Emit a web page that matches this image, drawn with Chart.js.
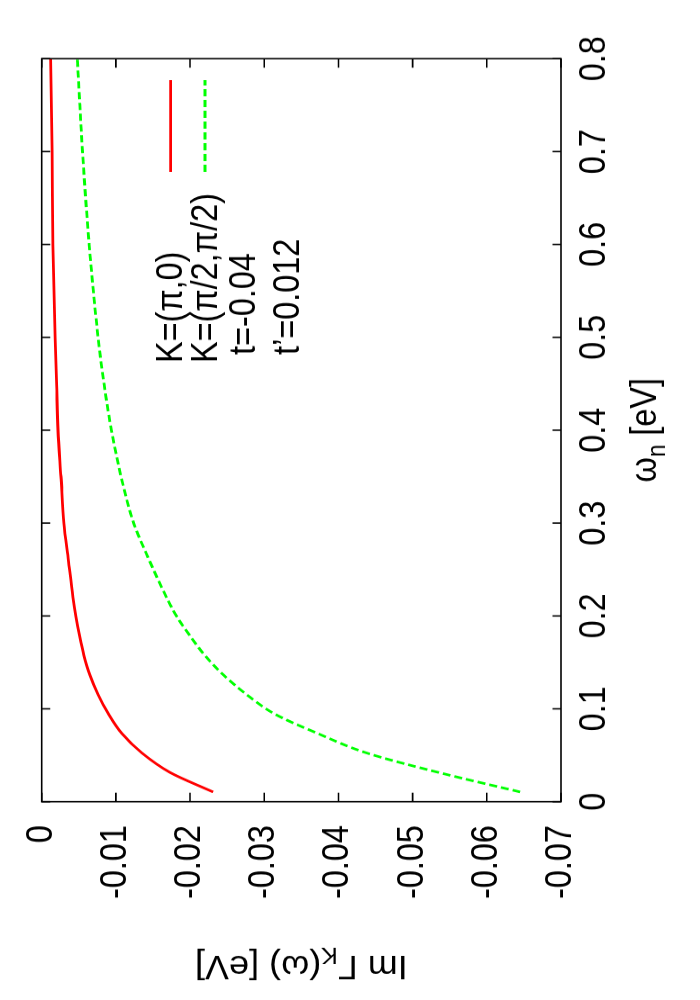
<!DOCTYPE html>
<html><head><meta charset="utf-8">
<script src="https://cdn.jsdelivr.net/npm/chart.js@4.4.0/dist/chart.umd.min.js"></script>
<style>
html,body{margin:0;padding:0;background:#fff;overflow:hidden;width:700px;height:1000px;}
#wrap{position:absolute;left:-150px;top:150px;width:1000px;height:700px;transform:rotate(-90deg);transform-origin:50% 50%;}
#c{display:block;width:1000px;height:700px;}
</style></head><body>
<div id="wrap"><canvas id="c" width="1111" height="700" style="width:1000px;height:700px"></canvas></div>
<script>
// Matsubara frequencies omega_n [eV]
const omega = [0.0105, 0.0315, 0.0525, 0.0735, 0.0945, 0.1155, 0.1365, 0.1575, 0.1785, 0.1995, 0.2205, 0.26, 0.30, 0.35, 0.40, 0.45, 0.50, 0.60, 0.70, 0.80];
// Im Gamma_K(omega) [eV], K=(pi,0)
const imGammaPi0 = [-0.0231, -0.0173, -0.0135, -0.0108, -0.0090, -0.0076, -0.0065, -0.0057, -0.0051, -0.0046, -0.0042, -0.0036, -0.0030, -0.0026, -0.0022, -0.0020, -0.0018, -0.0015, -0.0014, -0.0012];
// Im Gamma_K(omega) [eV], K=(pi/2,pi/2)
const imGammaPi2 = [-0.0645, -0.0535, -0.0438, -0.0372, -0.0314, -0.0276, -0.0245, -0.0220, -0.0200, -0.0182, -0.0168, -0.0145, -0.0124, -0.0107, -0.0094, -0.0084, -0.0076, -0.0064, -0.0055, -0.0048];
const seriesNames = ['K=(π,0)', 'K=(π/2,π/2)'];
const keyExtra = ['t=-0.04', 't’=0.012'];
const xTickValues = [0, 0.1, 0.2, 0.3, 0.4, 0.5, 0.6, 0.7, 0.8];
const xTickLabels = ['0', '0.1', '0.2', '0.3', '0.4', '0.5', '0.6', '0.7', '0.8'];
const yTickValues = [0, -0.01, -0.02, -0.03, -0.04, -0.05, -0.06, -0.07];
const yTickLabels = ['0', '-0.01', '-0.02', '-0.03', '-0.04', '-0.05', '-0.06', '-0.07'];
const xTitleParts = [['ω', false], ['n', true], [' [eV]', false]];
const yTitleParts = [['Im Γ', false], ['K', true], ['(ω) [eV]', false]];

const FONT = '"Liberation Sans", Arial, Helvetica, sans-serif';
const colors = ['#ff0000', '#00ff00'];
const dashes = [[], [8, 4]];

function richWidth(ctx, parts, size) {
  let w = 0;
  for (const [t, sub] of parts) {
    ctx.font = (sub ? Math.round(size * 0.7) : size) + 'px ' + FONT;
    w += ctx.measureText(t).width;
  }
  return w;
}
function drawRich(ctx, parts, size) {
  let x = -richWidth(ctx, parts, size) / 2;
  ctx.textAlign = 'left';
  ctx.textBaseline = 'alphabetic';
  for (const [t, sub] of parts) {
    ctx.font = (sub ? Math.round(size * 0.7) : size) + 'px ' + FONT;
    ctx.fillText(t, x, sub ? size * 0.25 : 0);
    x += ctx.measureText(t).width;
  }
}

const framePlugin = {
  id: 'framePlugin',
  afterDatasetsDraw(chart) {
    const ctx = chart.ctx;
    const a = chart.chartArea;
    const xs = chart.scales.x, ys = chart.scales.y;
    ctx.save();
    ctx.strokeStyle = '#000';
    ctx.lineWidth = 1.6;
    ctx.setLineDash([]);
    ctx.beginPath();
    for (const v of xTickValues) {
      const p = xs.getPixelForValue(v);
      ctx.moveTo(p, a.bottom); ctx.lineTo(p, a.bottom - 8.5);
      ctx.moveTo(p, a.top); ctx.lineTo(p, a.top + 8.5);
    }
    for (const v of yTickValues) {
      const p = ys.getPixelForValue(v);
      ctx.moveTo(a.left, p); ctx.lineTo(a.left + 10, p);
      ctx.moveTo(a.right, p); ctx.lineTo(a.right - 10, p);
    }
    ctx.stroke();
    ctx.strokeRect(a.left, a.top, a.right - a.left, a.bottom - a.top);

    ctx.fillStyle = '#000';
    ctx.save();
    ctx.translate((a.left + a.right) / 2, 655.5);
    drawRich(ctx, xTitleParts, 36);
    ctx.restore();
    ctx.save();
    ctx.translate(49, (a.top + a.bottom) / 2);
    ctx.rotate(-Math.PI / 2);
    drawRich(ctx, yTitleParts, 36);
    ctx.restore();

    const rowBase = [182.4, 217.4, 255.4, 298.6];
    const rowMid = [170.7, 205];
    const textX = [707.7, 707.7, 716.7, 716.7];
    ctx.font = '36px ' + FONT;
    ctx.textAlign = 'left';
    ctx.textBaseline = 'alphabetic';
    const keyTexts = seriesNames.concat(keyExtra);
    keyTexts.forEach((t, i) => ctx.fillText(t, textX[i], rowBase[i]));
    for (let i = 0; i < 2; i++) {
      ctx.strokeStyle = colors[i];
      ctx.lineWidth = 2.8;
      ctx.setLineDash(dashes[i]);
      ctx.beginPath();
      ctx.moveTo(920, rowMid[i]);
      ctx.lineTo(1022, rowMid[i]);
      ctx.stroke();
    }
    ctx.restore();
  }
};

const series = [imGammaPi0, imGammaPi2];
new Chart(document.getElementById('c'), {
  type: 'scatter',
  data: {
    datasets: series.map((vals, i) => ({
      label: seriesNames[i],
      data: omega.map((w, j) => ({ x: w, y: vals[j] })),
      showLine: true,
      borderColor: colors[i],
      backgroundColor: colors[i],
      borderWidth: 2.8,
      borderDash: dashes[i],
      pointRadius: 0,
      cubicInterpolationMode: 'monotone'
    }))
  },
  options: {
    responsive: false,
    devicePixelRatio: 1,
    animation: false,
    events: [],
    layout: { padding: { left: 0, right: 65.2, top: 41.7, bottom: 0 } },
    plugins: { legend: { display: false }, tooltip: { enabled: false } },
    scales: {
      x: {
        type: 'linear', position: 'bottom', min: 0, max: 0.8,
        afterBuildTicks: s => { s.ticks = xTickValues.map(v => ({ value: v })); },
        afterFit: s => { s.height = 139; s.paddingLeft = 0; s.paddingRight = 0; },
        grid: { display: false, drawTicks: false, tickLength: 0 },
        border: { display: false },
        ticks: {
          color: '#000', padding: 12, maxRotation: 0, autoSkip: false,
          font: { family: FONT, size: 36 },
          callback: (v) => { const i = xTickValues.findIndex(t => Math.abs(t - v) < 1e-9); return i >= 0 ? xTickLabels[i] : ''; }
        }
      },
      y: {
        type: 'linear', position: 'left', min: -0.07, max: 0,
        afterBuildTicks: s => { s.ticks = yTickValues.map(v => ({ value: v })); },
        afterFit: s => { s.width = 220.3; s.paddingTop = 0; s.paddingBottom = 0; },
        grid: { display: false, drawTicks: false, tickLength: 0 },
        border: { display: false },
        ticks: {
          color: '#000', padding: 26, autoSkip: false,
          font: { family: FONT, size: 36 },
          callback: (v) => { const i = yTickValues.findIndex(t => Math.abs(t - v) < 1e-9); return i >= 0 ? yTickLabels[i] : ''; }
        }
      }
    }
  },
  plugins: [framePlugin]
});
</script>
</body></html>
